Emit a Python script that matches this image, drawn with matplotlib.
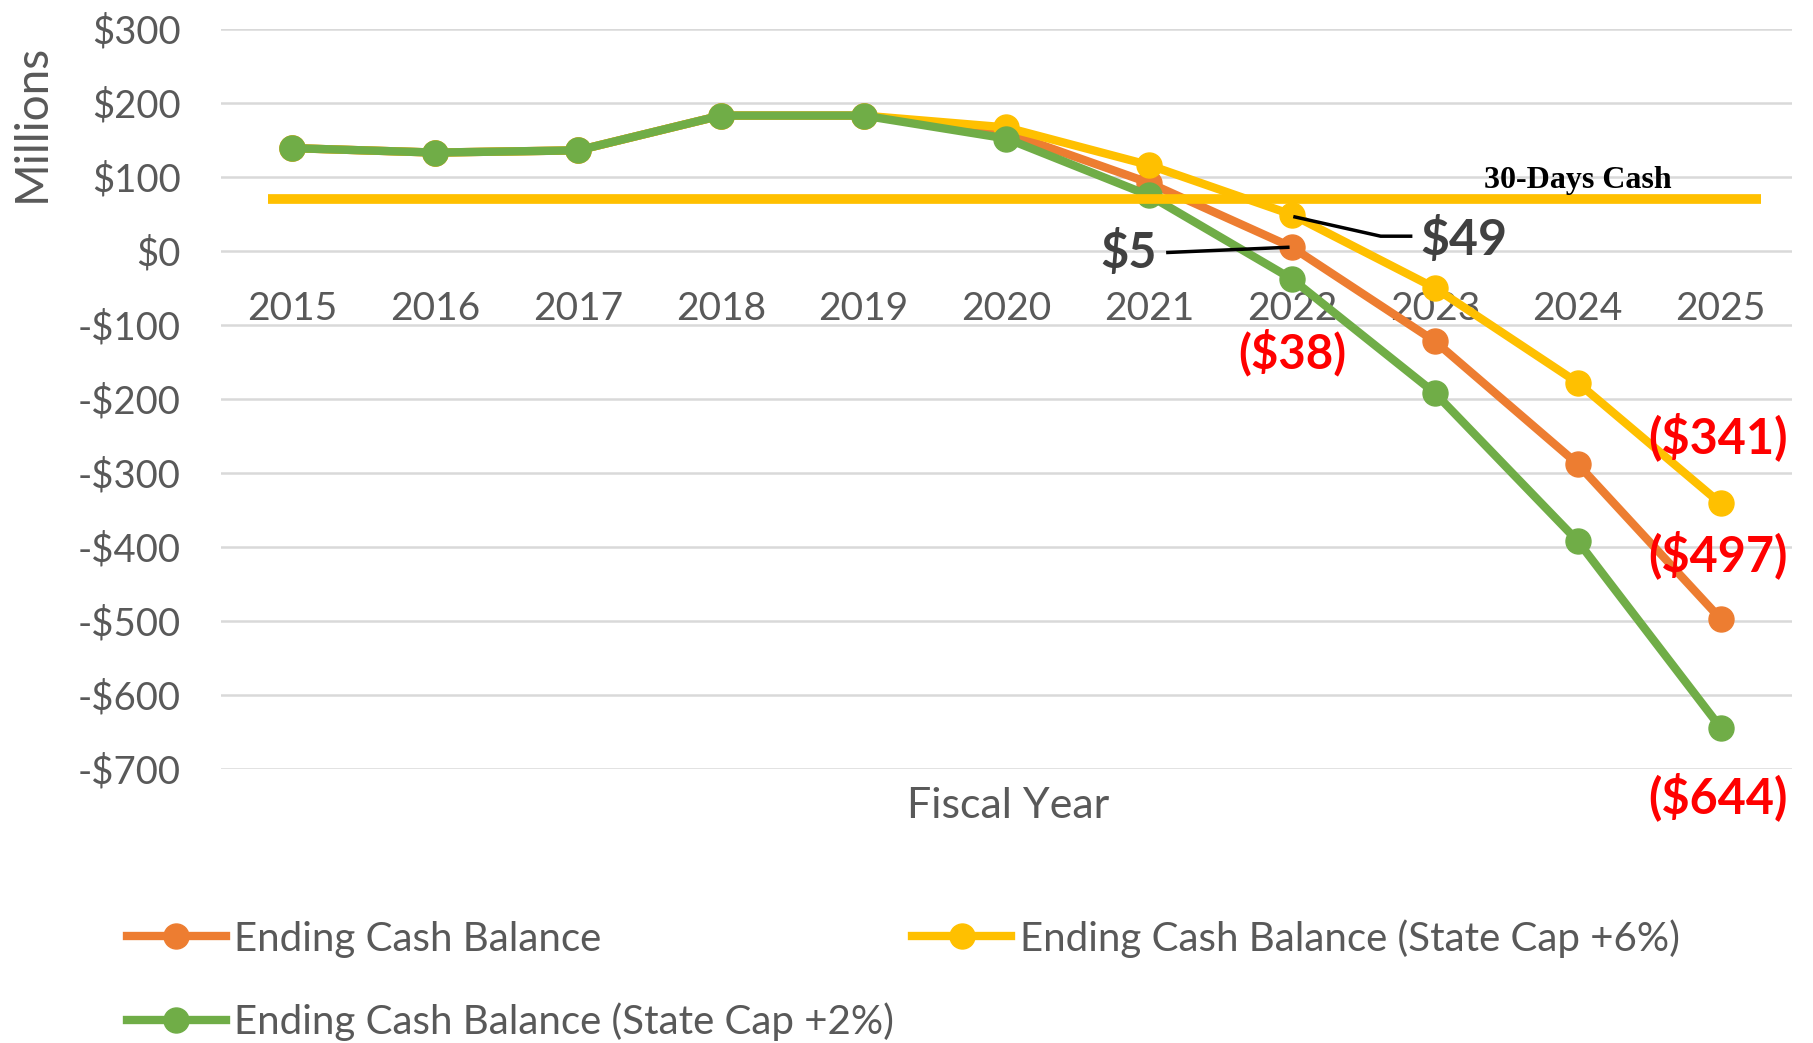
import matplotlib
matplotlib.use("Agg")
import matplotlib.pyplot as plt

plt.rcParams['font.family'] = ['Lato', 'DejaVu Sans']

years = ["2015", "2016", "2017", "2018", "2019", "2020", "2021", "2022", "2023", "2024", "2025"]
ending_cash = [139, 133, 136, 183, 183, 160, 92, 5, -122, -288, -497]
cap_6pct = [139, 133, 136, 183, 183, 167, 116, 49, -50, -178, -341]
cap_2pct = [139, 133, 136, 183, 183, 152, 75, -38, -192, -392, -644]
thirty_days = 70
y_ticks = [300, 200, 100, 0, -100, -200, -300, -400, -500, -600, -700]
y_tick_labels = ["$300", "$200", "$100", "$0", "-$100", "-$200", "-$300",
                 "-$400", "-$500", "-$600", "-$700"]

ORANGE = "#ED7D31"
YELLOW = "#FFC000"
GREEN = "#70AD47"
GRAY = "#595959"

fig = plt.figure(figsize=(18.13, 10.43), dpi=100)
ax = fig.add_axes([0.1219, 0.2627, 0.8665, 0.7095])
x = list(range(len(years)))

lw = 6
ms = 18
l1, = ax.plot(x, ending_cash, color=ORANGE, lw=lw, marker='o', ms=ms, zorder=3,
              label="Ending Cash Balance")
l2, = ax.plot(x, cap_6pct, color=YELLOW, lw=lw, marker='o', ms=ms, zorder=4,
              label="Ending Cash Balance (State Cap +6%)")
l3, = ax.plot(x, cap_2pct, color=GREEN, lw=lw, marker='o', ms=ms, zorder=5,
              label="Ending Cash Balance (State Cap +2%)")

# 30-days cash line
ax.plot([-0.17, 10.28], [thirty_days, thirty_days], color=YELLOW, lw=7,
        solid_capstyle='butt', zorder=6, clip_on=False)
ax.text(9.0, 95, "30-Days Cash", family=['Liberation Serif'], fontweight='bold',
        fontsize=23, ha='center', va='center', color='black', zorder=7)

ax.set_xlim(-0.5, 10.5)
ax.set_ylim(-700, 300)
ax.set_yticks(y_ticks)
ax.set_yticklabels(y_tick_labels)
ax.set_xticks([])
ax.tick_params(axis='y', length=0, pad=29, labelsize=27.5, labelcolor=GRAY)
for s in ax.spines.values():
    s.set_visible(False)
ax.grid(axis='y', color='#D9D9D9', lw=1.8, zorder=0)
ax.set_axisbelow(True)

for i, yr in enumerate(years):
    ax.text(i, -78, yr, ha='center', va='center', fontsize=28, color=GRAY, zorder=2)

# annotations
ax.text(6.05, -2, "$5", ha='right', va='center', fontsize=35, fontweight='bold',
        color='#404040', zorder=8)
ax.plot([6.13, 6.97], [-2, 5], color='black', lw=2.5, zorder=8)
ax.text(7.9, 16, "$49", ha='left', va='center', fontsize=36, fontweight='bold',
        color='#404040', zorder=8)
ax.plot([7.02, 7.62, 7.83], [46, 20, 20], color='black', lw=2.5, zorder=8)

RED = "#FF0000"
ax.text(7.0, -137, "($38)", ha='center', va='center', fontsize=34, fontweight='bold',
        color=RED, zorder=8)
ax.text(9.98, -251, "($341)", ha='center', va='center', fontsize=35, fontweight='bold',
        color=RED, zorder=8, clip_on=False)
ax.text(9.98, -411, "($497)", ha='center', va='center', fontsize=35, fontweight='bold',
        color=RED, zorder=8, clip_on=False)
ax.text(9.98, -737, "($644)", ha='center', va='center', fontsize=35, fontweight='bold',
        color=RED, zorder=8, clip_on=False)

fig.text(0.0177, 0.882, "Millions", rotation=90, ha='center', va='center',
         fontsize=33, color=GRAY)
fig.text(0.556, 0.227, "Fiscal Year", ha='center', va='center', fontsize=31, color=GRAY)

fig.legend(handles=[l1, l3, l2], loc='upper left', bbox_to_anchor=(0.070, 0.119),
           ncol=2, frameon=False, fontsize=29, handlelength=2.45, handletextpad=0.22,
           labelspacing=1.12, columnspacing=0.45, borderpad=0, borderaxespad=0,
           labelcolor=GRAY)

fig.savefig("out.png", dpi=100)
